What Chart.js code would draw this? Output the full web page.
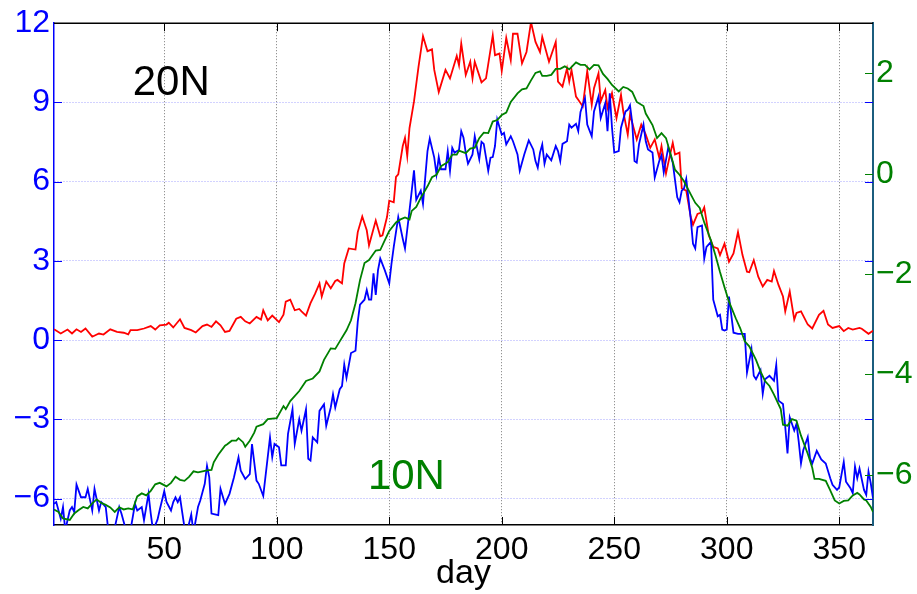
<!DOCTYPE html>
<html>
<head>
<meta charset="utf-8">
<title>day</title>
<script src="https://cdn.jsdelivr.net/npm/chart.js@4.4.0/dist/chart.umd.min.js"></script>
<style>
  html, body { margin: 0; padding: 0; background: #fff; }
</style>
</head>
<body>
<canvas id="dayChart" width="917" height="594"></canvas>
<script>
// [day, value] pairs; red and blue use the left axis, green the right one
const red20N = [[1,0.41],[4,0.25],[7,0.40],[9,0.25],[11,0.41],[13,0.31],[15,0.44],[18,0.13],[21,0.25],[23,0.21],
  [26,0.41],[29,0.31],[32,0.28],[34,0.22],[35,0.38],[38,0.38],[41,0.44],[44,0.53],[46,0.40],[48,0.56],
  [51,0.59],[52,0.66],[54,0.48],[57,0.79],[59,0.46],[62,0.38],[64,0.29],[67,0.53],[69,0.59],[71,0.50],
  [73,0.71],[75,0.56],[77,0.31],[79,0.35],[82,0.81],[84,0.88],[86,0.71],[88,0.63],[91,0.88],[93,0.78],
  [94,1.13],[96,0.75],[98,0.93],[101,0.68],[103,0.96],[104,1.46],[106,1.53],[108,1.13],[110,1.18],[111,1.09],
  [113,0.93],[115,1.40],[117,1.75],[119,2.15],[120,1.65],[122,2.22],[124,1.96],[126,2.24],[127,2.28],[129,2.15],
  [130,2.90],[132,3.47],[135,3.43],[136,4.09],[138,4.68],[140,4.16],[141,3.59],[144,4.53],[146,3.93],[147,3.97],
  [149,4.66],[150,5.28],[152,5.22],[153,6.18],[154,6.28],[156,7.35],[157,7.66],[158,6.97],[159,8.03],[161,9.04],
  [163,10.35],[165,11.51],[167,10.94],[169,11.01],[170,10.23],[172,9.39],[175,10.23],[177,9.91],[180,10.76],[181,10.41],
  [182,11.23],[184,10.04],[186,10.54],[187,9.91],[188,10.54],[191,9.76],[193,9.91],[196,11.54],[197,10.79],[199,10.85],
  [200,10.19],[202,11.44],[204,10.60],[205,11.60],[207,11.60],[209,10.48],[211,10.91],[213,12.04],[215,11.29],[217,10.91],
  [218,11.48],[220,10.85],[221,10.54],[224,11.29],[225,9.79],[227,9.60],[229,10.29],[230,9.79],[231,10.23],[233,9.22],
  [234,9.10],[236,8.85],[238,10.19],[240,8.91],[241,9.54],[243,10.10],[244,9.04],[246,9.47],[247,8.79],[249,9.35],
  [251,8.41],[253,9.29],[254,8.66],[256,7.78],[257,8.54],[260,7.60],[262,8.16],[264,7.78],[266,7.28],[268,7.60],
  [270,6.91],[271,7.35],[273,6.31],[275,7.10],[276,7.47],[277,7.03],[279,7.10],[280,5.74],[282,5.66],[284,4.66],
  [285,4.37],[287,4.78],[289,4.84],[290,5.03],[292,3.97],[294,3.53],[296,3.47],[297,3.22],[299,3.65],[301,2.97],
  [303,3.28],[305,4.09],[307,3.22],[309,2.59],[310,2.57],[312,3.03],[314,2.40],[316,2.03],[318,2.28],[320,2.22],
  [321,2.62],[323,2.09],[325,1.65],[326,1.09],[328,1.84],[330,0.78],[331,1.03],[333,1.09],[336,0.59],[338,0.44],
  [341,0.96],[343,1.11],[345,0.59],[347,0.46],[350,0.53],[352,0.34],[354,0.46],[356,0.40],[359,0.46],[360,0.43],
  [363,0.24],[365,0.36]];

const blue20N = [[1,-6.20],[2,-6.13],[4,-6.76],[5,-6.32],[6,-7.2],[8,-6.45],[9,-6.32],[10,-6.51],[11,-5.47],[13,-5.95],
  [15,-5.95],[16,-5.63],[18,-6.45],[19,-5.63],[21,-6.45],[22,-6.13],[24,-6.32],[25,-7.1],[27,-7.3],[28,-7.1],
  [30,-6.32],[31,-6.57],[33,-7.2],[35,-7.2],[37,-6.20],[38,-6.45],[40,-6.32],[41,-6.82],[43,-5.82],[44,-6.57],
  [45,-7.2],[47,-6.8],[48,-6.42],[50,-5.72],[51,-6.13],[53,-6.45],[54,-6.13],[55,-5.95],[56,-6.13],[57,-5.95],
  [59,-7.1],[60,-7.3],[62,-6.6],[63,-7.3],[65,-6.32],[66,-6.07],[68,-5.44],[69,-4.76],[70,-5.19],[71,-6.57],
  [74,-6.63],[75,-5.63],[77,-6.20],[79,-5.82],[81,-5.19],[83,-4.44],[84,-4.94],[86,-5.26],[88,-5.07],[89,-3.94],
  [91,-5.32],[92,-5.44],[94,-5.90],[97,-3.68],[98,-4.43],[99,-3.93],[101,-4.06],[102,-4.74],[104,-4.74],[105,-3.55],
  [107,-2.62],[108,-3.93],[110,-2.99],[111,-3.43],[113,-2.62],[114,-4.49],[115,-4.56],[116,-3.68],[118,-3.87],[119,-2.68],
  [121,-2.43],[122,-3.24],[124,-2.55],[125,-2.05],[126,-2.55],[128,-1.86],[129,-1.74],[130,-0.93],[131,-1.43],[133,-0.49],
  [135,-0.40],[136,0.70],[137,1.34],[139,1.53],[140,1.90],[141,1.53],[142,1.53],[143,2.53],[144,1.71],[145,2.65],
  [146,3.09],[148,2.65],[150,2.15],[151,2.90],[152,3.53],[154,4.66],[156,3.84],[157,3.47],[159,4.91],[160,5.66],
  [161,6.43],[162,5.31],[164,5.66],[165,5.16],[166,6.16],[167,7.16],[168,7.63],[170,6.91],[171,6.28],[172,6.93],
  [173,6.47],[175,6.47],[176,7.16],[177,6.41],[178,7.28],[179,7.10],[181,7.20],[182,7.91],[183,7.66],[184,7.10],
  [185,6.68],[187,7.03],[188,7.72],[189,7.28],[190,6.85],[191,7.51],[192,7.43],[194,6.41],[195,6.91],[196,6.93],
  [197,7.35],[198,8.35],[200,7.78],[201,7.85],[202,7.41],[204,7.72],[205,7.53],[207,7.03],[208,6.41],[210,7.03],
  [212,7.56],[214,7.22],[215,6.78],[216,6.53],[217,7.10],[218,7.41],[219,6.68],[220,7.03],[222,6.81],[224,7.35],
  [225,7.16],[226,6.78],[227,7.43],[229,7.53],[230,8.16],[231,8.04],[233,8.19],[234,7.91],[235,8.64],[237,9.16],
  [238,8.16],[240,7.72],[241,8.66],[243,9.22],[244,8.41],[246,8.97],[247,7.91],[248,9.35],[249,8.04],[250,7.10],
  [252,7.16],[253,8.04],[255,8.66],[256,8.72],[257,8.89],[258,8.22],[259,6.78],[260,6.72],[261,7.41],[263,8.16],
  [264,7.53],[265,7.22],[267,7.10],[268,6.16],[270,6.78],[271,7.00],[272,6.35],[274,7.30],[276,6.72],[278,5.41],
  [279,5.22],[280,5.66],[281,5.74],[282,6.10],[284,4.59],[285,3.65],[286,3.47],[287,4.28],[289,4.34],[290,3.09],
  [291,3.53],[293,3.72],[294,1.53],[296,0.90],[297,0.96],[298,0.40],[299,0.36],[300,0.40],[301,1.65],[303,0.28],
  [305,0.24],[308,0.24],[309,-1.23],[311,-0.35],[312,-1.35],[313,-1.48],[315,-1.14],[316,-2.04],[317,-1.48],[319,-1.35],
  [321,-1.54],[322,-0.94],[323,-2.29],[325,-2.42],[326,-3.29],[327,-4.29],[328,-2.92],[330,-3.42],[331,-3.17],[332,-3.85],
  [333,-4.67],[334,-4.17],[336,-3.67],[337,-4.48],[338,-4.67],[340,-4.19],[342,-4.52],[344,-4.67],[346,-5.23],[347,-5.48],
  [349,-5.67],[350,-5.57],[352,-4.61],[353,-5.36],[355,-5.61],[356,-5.79],[357,-4.79],[358,-5.23],[359,-4.86],[361,-5.67],
  [362,-5.86],[363,-4.98],[364,-5.42],[365,-5.98]];

const green10N = [[1,-6.69],[3,-6.74],[5,-6.87],[8,-6.90],[10,-6.77],[12,-6.70],[14,-6.64],[16,-6.67],[18,-6.57],[20,-6.49],
  [22,-6.56],[24,-6.60],[26,-6.65],[28,-6.74],[30,-6.65],[32,-6.69],[34,-6.67],[36,-6.69],[38,-6.43],[40,-6.37],
  [42,-6.41],[44,-6.32],[46,-6.19],[48,-6.16],[51,-6.23],[53,-6.16],[55,-6.04],[57,-6.10],[59,-6.12],[61,-6.04],
  [63,-5.93],[65,-5.95],[67,-5.93],[69,-5.91],[71,-5.90],[72,-5.75],[74,-5.60],[77,-5.42],[78,-5.39],[80,-5.32],
  [82,-5.32],[83,-5.27],[85,-5.35],[86,-5.44],[88,-5.32],[90,-5.16],[91,-5.04],[94,-4.99],[96,-4.89],[100,-4.87],
  [103,-4.63],[104,-4.69],[106,-4.53],[110,-4.33],[113,-4.13],[116,-4.08],[119,-3.94],[121,-3.71],[124,-3.48],[126,-3.49],
  [128,-3.34],[131,-3.12],[133,-2.92],[135,-2.58],[137,-2.12],[139,-1.78],[141,-1.72],[144,-1.53],[146,-1.52],[148,-1.33],
  [150,-1.14],[153,-0.97],[155,-0.91],[157,-0.87],[159,-0.91],[160,-0.74],[162,-0.66],[164,-0.48],[167,-0.25],[169,-0.07],
  [171,-0.02],[173,0.15],[176,0.23],[178,0.38],[180,0.38],[181,0.46],[184,0.41],[186,0.50],[188,0.52],[190,0.71],
  [192,0.82],[194,0.81],[196,1.04],[198,1.07],[200,1.17],[202,1.22],[204,1.43],[207,1.60],[209,1.68],[211,1.70],
  [213,1.86],[215,2.01],[217,2.04],[218,1.95],[220,1.95],[222,1.97],[224,2.09],[226,2.09],[228,2.14],[230,2.08],
  [233,2.22],[235,2.17],[237,2.17],[239,2.08],[241,2.17],[243,2.16],[245,1.99],[247,1.89],[249,1.77],[252,1.64],
  [254,1.73],[256,1.70],[258,1.63],[260,1.43],[263,1.35],[264,1.20],[267,0.97],[269,0.71],[271,0.81],[273,0.71],
  [275,0.40],[277,0.08],[279,-0.02],[281,-0.15],[284,-0.41],[286,-0.58],[288,-0.68],[290,-0.97],[293,-1.33],[295,-1.63],
  [297,-1.96],[299,-2.26],[301,-2.55],[304,-2.88],[306,-3.08],[308,-3.34],[310,-3.44],[313,-3.71],[315,-3.94],[317,-4.13],
  [319,-4.23],[321,-4.40],[324,-4.69],[325,-5.00],[327,-5.02],[329,-4.89],[331,-4.92],[333,-5.22],[336,-5.58],[338,-5.86],
  [339,-6.08],[341,-6.08],[344,-6.12],[346,-6.31],[348,-6.51],[350,-6.57],[352,-6.52],[354,-6.51],[356,-6.41],[358,-6.36],
  [359,-6.39],[361,-6.49],[362,-6.51],[364,-6.64],[365,-6.74]];

const dayTicks = [50, 100, 150, 200, 250, 300, 350];
const leftTicks = [-6, -3, 0, 3, 6, 9, 12];
const rightTicks = [-6, -4, -2, 0, 2];

const FONT = 'Helvetica, "Liberation Sans", Arial, sans-serif';
const BLUE = '#0000ff';
const GREEN = '#008000';
const RED = '#ff0000';

const toPoints = arr => arr.map(p => ({ x: p[0], y: p[1] }));
const minusSign = v => String(v).replace('-', '\u2212');
const fixTicks = list => scale => { scale.ticks = list.map(v => ({ value: v })); };

// MATLAB style box: top edge plus inward tick marks on all four sides
const boxTicks = {
    id: 'boxTicks',
    afterDraw(chart) {
        const { ctx, chartArea: a, scales } = chart;
        const len = 8;
        ctx.save();
        ctx.lineWidth = 1;

        ctx.strokeStyle = '#000';
        dayTicks.forEach(v => {
            const px = Math.round(scales.x.getPixelForValue(v)) + 0.5;
            ctx.beginPath();
            ctx.moveTo(px, a.bottom); ctx.lineTo(px, a.bottom - len);
            ctx.moveTo(px, a.top); ctx.lineTo(px, a.top + len);
            ctx.stroke();
        });

        ctx.strokeStyle = BLUE;
        leftTicks.forEach(v => {
            const py = Math.round(scales.y.getPixelForValue(v)) + 0.5;
            ctx.beginPath();
            ctx.moveTo(a.left, py); ctx.lineTo(a.left + len, py);
            ctx.moveTo(a.right, py); ctx.lineTo(a.right - len, py);
            ctx.stroke();
        });

        ctx.strokeStyle = GREEN;
        rightTicks.forEach(v => {
            const py = Math.round(scales.y2.getPixelForValue(v)) + 0.5;
            ctx.beginPath();
            ctx.moveTo(a.right, py); ctx.lineTo(a.right - len, py);
            ctx.stroke();
        });

        ctx.strokeStyle = '#000';
        ctx.lineWidth = 1.5;
        ctx.beginPath();
        ctx.moveTo(a.left, a.top); ctx.lineTo(a.right, a.top);
        ctx.stroke();
        ctx.restore();
    }
};

// latitude labels inside the plot
const latLabels = {
    id: 'latLabels',
    afterDatasetsDraw(chart) {
        const { ctx, scales } = chart;
        ctx.save();
        ctx.font = '42px ' + FONT;
        ctx.textAlign = 'left';
        ctx.textBaseline = 'alphabetic';
        ctx.fillStyle = '#000';
        ctx.fillText('20N', scales.x.getPixelForValue(36), scales.y.getPixelForValue(9.27));
        ctx.fillStyle = GREEN;
        ctx.fillText('10N', scales.x.getPixelForValue(140.5), scales.y.getPixelForValue(-5.62));
        ctx.restore();
    }
};

const ctx = document.getElementById('dayChart').getContext('2d');
const dayChart = new Chart(ctx, {
    type: 'line',
    data: {
        datasets: [
            { label: '10N', data: toPoints(green10N), yAxisID: 'y2', borderColor: GREEN, borderWidth: 1.8 },
            { label: 'blue', data: toPoints(blue20N), yAxisID: 'y', borderColor: BLUE, borderWidth: 1.8 },
            { label: '20N', data: toPoints(red20N), yAxisID: 'y', borderColor: RED, borderWidth: 1.8 }
        ]
    },
    options: {
        responsive: false,
        animation: false,
        layout: { padding: { top: 19, left: 0, right: 0, bottom: 0 } },
        elements: { point: { radius: 0 }, line: { tension: 0, fill: false } },
        plugins: { legend: { display: false }, tooltip: { enabled: false } },
        scales: {
            x: {
                type: 'linear', min: 1, max: 365,
                afterBuildTicks: fixTicks(dayTicks),
                afterFit: s => { s.height = 69; },
                grid: { color: '#7a7a7a', lineWidth: 1, drawTicks: false },
                border: { color: '#000', width: 1.5, dash: [1, 2] },
                ticks: { color: '#000', font: { family: FONT, size: 32 }, padding: 6, maxRotation: 0 },
                title: { display: true, text: 'day', color: '#000', font: { family: FONT, size: 34 }, padding: { top: 0, bottom: 0 } }
            },
            y: {
                position: 'left', min: -7, max: 12,
                afterBuildTicks: fixTicks(leftTicks),
                afterFit: s => { s.width = 54; },
                grid: { color: '#a4a4ff', lineWidth: 1, drawTicks: false },
                border: { color: BLUE, width: 1.5, dash: [1, 2] },
                ticks: { color: BLUE, font: { family: FONT, size: 32 }, padding: 4, callback: minusSign }
            },
            y2: {
                position: 'right', min: -7, max: 3,
                afterBuildTicks: fixTicks(rightTicks),
                afterFit: s => { s.width = 44; },
                grid: { display: false, drawTicks: false },
                border: { color: '#1b5d7e', width: 2 },
                ticks: { color: GREEN, font: { family: FONT, size: 32 }, padding: 3, callback: minusSign }
            }
        }
    },
    plugins: [latLabels, boxTicks]
});
</script>
</body>
</html>
